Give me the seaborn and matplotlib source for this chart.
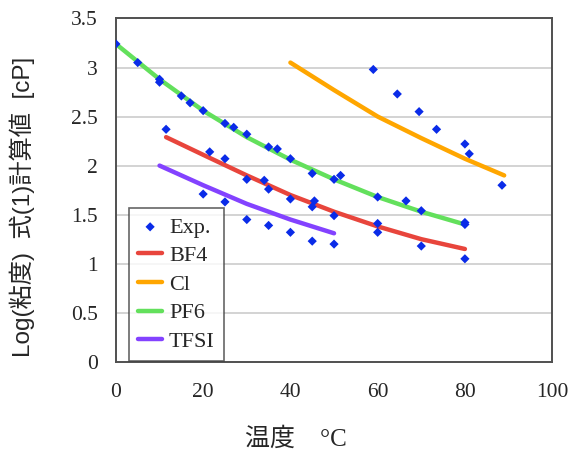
import matplotlib
matplotlib.use('Agg')
import matplotlib.pyplot as plt
import numpy as np
import seaborn as sns

# experimental points (temperature in degC, log viscosity)
exp_temp = [0, 5, 10, 10, 15, 17, 20, 25, 27, 30, 35, 37, 40, 45, 50, 51.5, 60, 66.5, 70, 80, 80,
            11.5, 21.5, 25, 30, 34, 35, 40, 45, 45.5, 50, 60, 60, 70, 80,
            20, 25, 30, 35, 40, 45, 50,
            59, 64.5, 69.5, 73.5, 80, 81, 88.5]
exp_visc = [3.24, 3.05, 2.88, 2.85, 2.71, 2.64, 2.56, 2.43, 2.39, 2.32, 2.19, 2.17, 2.07, 1.92, 1.86, 1.90, 1.68, 1.64, 1.54, 1.42, 1.40,
            2.37, 2.14, 2.07, 1.86, 1.85, 1.76, 1.66, 1.58, 1.64, 1.49, 1.41, 1.32, 1.18, 1.05,
            1.71, 1.63, 1.45, 1.39, 1.32, 1.23, 1.20,
            2.98, 2.73, 2.55, 2.37, 2.22, 2.12, 1.80]

# calculated curves, eq.(1)
bf4_temp = [11.5, 20, 30, 40, 50, 60, 70, 80]
bf4_visc = [2.29, 2.11, 1.90, 1.70, 1.53, 1.38, 1.25, 1.15]
cl_temp = [40, 50, 60, 70, 80, 89]
cl_visc = [3.05, 2.77, 2.50, 2.28, 2.07, 1.90]
pf6_temp = [0, 10, 20, 30, 40, 50, 60, 70, 80]
pf6_visc = [3.24, 2.88, 2.56, 2.29, 2.06, 1.86, 1.68, 1.53, 1.40]
tfsi_temp = [10, 20, 30, 40, 50]
tfsi_visc = [2.00, 1.80, 1.61, 1.45, 1.31]

series = [('BF4', bf4_temp, bf4_visc, '#e8453c'),
          ('Cl', cl_temp, cl_visc, '#ffa600'),
          ('PF6', pf6_temp, pf6_visc, '#63e05c'),
          ('TFSI', tfsi_temp, tfsi_visc, '#8342ff')]

sns.set_style('white')
plt.rcParams['font.family'] = ['Liberation Serif', 'Noto Sans CJK JP']

fig = plt.figure(figsize=(5.71, 4.5), dpi=100)
ax = fig.add_axes([0.203, 0.196, 0.764, 0.763])

for y in np.arange(0.5, 3.5, 0.5):
    ax.axhline(y, color='#c8c8c8', lw=1.1, zorder=0)

sns.scatterplot(x=exp_temp, y=exp_visc, marker='D', s=22, color='#0a2be8',
                edgecolor='none', label='Exp.', zorder=3, ax=ax)
for name, xs, ys, c in series:
    sns.lineplot(x=xs, y=ys, color=c, lw=3.2, label=name, zorder=2, ax=ax)

ax.set_xlim(0, 100)
ax.set_ylim(0, 3.5)
ax.set_xticks(range(0, 101, 20))
ax.set_yticks(np.arange(0, 3.51, 0.5))
ax.set_yticklabels(['0', '0.5', '1', '1.5', '2', '2.5', '3', '3.5'])
ax.tick_params(axis='x', direction='in', length=4, color='#c8c8c8', pad=15, labelsize=15.5)
ax.tick_params(axis='y', length=0, pad=13, labelsize=15.5)
for sp in ax.spines.values():
    sp.set_color('#505050')
    sp.set_linewidth(1.4)

ax.set_xlabel('温度\u3000°C', fontsize=18, family=['Liberation Serif', 'Noto Sans CJK JP'])
ax.xaxis.set_label_coords(0.413, -0.19)
ax.set_ylabel('Log(粘度)  式(1)計算値  [cP]', fontsize=17.5,
              family=['Liberation Sans', 'Noto Sans CJK JP'])
ax.yaxis.set_label_coords(-0.185, 0.45)

leg = ax.legend(loc='lower left', bbox_to_anchor=(0.03, 0.003), borderaxespad=0,
                fontsize=16, frameon=True, fancybox=False, handlelength=1.1,
                handletextpad=0.3, labelspacing=0.36, borderpad=0.4)
leg.get_frame().set_edgecolor('#404040')
leg.get_frame().set_linewidth(1.2)

fig.savefig('out.png', dpi=100)
